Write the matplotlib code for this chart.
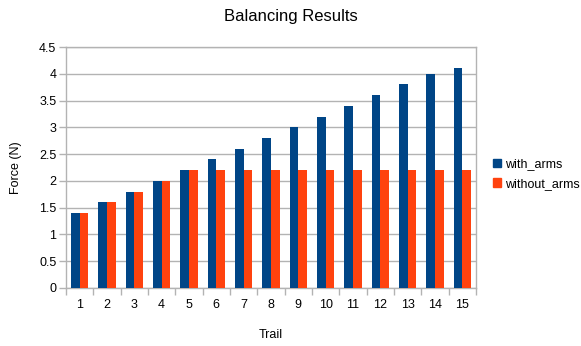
import numpy as np
import matplotlib
matplotlib.use("Agg")
import matplotlib.pyplot as plt
from matplotlib.patches import Patch

plt.rcParams['font.family'] = ['Liberation Sans', 'DejaVu Sans']

# trial numbers and measured forces
trails = [str(i) for i in range(1, 16)]
with_arms = [1.4, 1.6, 1.8, 2.0, 2.2, 2.4, 2.6, 2.8, 3.0, 3.2, 3.4, 3.6, 3.8, 4.0, 4.1]
without_arms = [1.4, 1.6, 1.8, 2.0, 2.2, 2.2, 2.2, 2.2, 2.2, 2.2, 2.2, 2.2, 2.2, 2.2, 2.2]
y_ticks = [0, 0.5, 1, 1.5, 2, 2.5, 3, 3.5, 4, 4.5]

BLUE = "#004586"
ORANGE = "#ff420e"
GRID = "#b3b3b3"

fig = plt.figure(figsize=(5.81, 3.46), dpi=100)
ax = fig.add_axes([66 / 581, 1 - 288 / 346, 410 / 581, 241 / 346])

x = np.arange(len(trails))
w = 0.318
ax.bar(x - w / 2, with_arms, w, color=BLUE, zorder=3)
ax.bar(x + w / 2, without_arms, w, color=ORANGE, zorder=3)

ax.set_xlim(-0.5, len(trails) - 0.5)
ax.set_ylim(0, 4.5)
ax.set_yticks(y_ticks)
ax.set_yticklabels([f"{v:g}" for v in y_ticks], fontsize=9)
ax.yaxis.grid(True, color=GRID, linewidth=1, zorder=0)

# labels in the middle of each category, tick marks on the boundaries
ax.set_xticks(x)
ax.set_xticklabels(trails, fontsize=9)
ax.set_xticks(np.arange(len(trails) + 1) - 0.5, minor=True)
ax.tick_params(axis='x', which='major', length=0, pad=8)
ax.tick_params(axis='x', which='minor', length=5, color=GRID, width=1)
ax.tick_params(axis='y', length=5, color=GRID, width=1, pad=2)

for s in ax.spines.values():
    s.set_color(GRID)
    s.set_linewidth(1)

ax.set_xlabel("Trail", fontsize=9, labelpad=13)
ax.set_ylabel("Force (N)", fontsize=9, labelpad=12)
fig.suptitle("Balancing Results", fontsize=12, y=0.975)

handles = [Patch(color=BLUE, label="with_arms"), Patch(color=ORANGE, label="without_arms")]
fig.legend(handles=handles, loc="center left", bbox_to_anchor=(482 / 581, 1 - 174 / 346),
           frameon=False, fontsize=9, handlelength=0.65, handleheight=0.65,
           handletextpad=0.3, labelspacing=0.6)

fig.savefig("out.png", dpi=100)
